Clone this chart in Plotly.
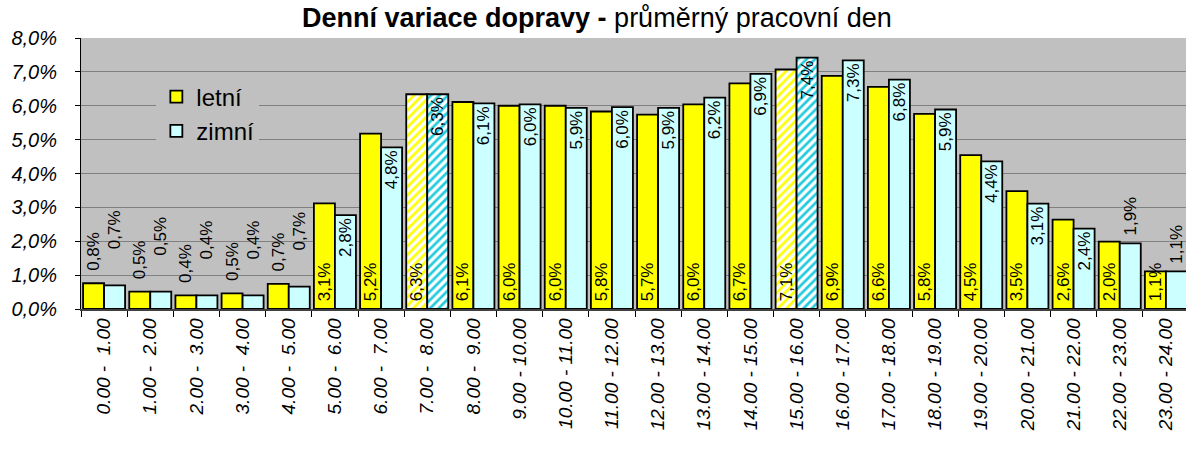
import plotly.graph_objects as go

# ---- data ----
hours_from = list(range(24))
categories = [f"{h}.00 - {'\u00a0' if h + 1 < 10 else ''}{h + 1}.00" for h in hours_from]
letni = [0.76, 0.51, 0.40, 0.46, 0.74, 3.12, 5.18, 6.34, 6.11, 6.00, 6.00, 5.83,
         5.74, 6.04, 6.66, 7.07, 6.88, 6.56, 5.76, 4.54, 3.48, 2.64, 1.99, 1.11]
zimni = [0.70, 0.51, 0.40, 0.40, 0.66, 2.77, 4.77, 6.34, 6.07, 6.04, 5.94, 5.96,
         5.94, 6.24, 6.94, 7.42, 7.34, 6.77, 5.89, 4.36, 3.11, 2.37, 1.94, 1.11]
peak_hours = ["7.00 - \u00a08.00", "15.00 - 16.00"]
series_names = ["letní", "zimní"]
title_bold = "Denní variace dopravy -"
title_rest = "průměrný pracovní den"

FONT = "Liberation Sans, Arial, sans-serif"
YELLOW = "#FFFF00"
CYAN = "#CCFFFF"
CYAN_HATCH = "#22CCDD"
NB = "\u00a0"


def pattern_for(fg):
    shapes = ["/" if c in peak_hours else "" for c in categories]
    fgs = [fg] * len(categories)
    bgs = ["white" if c in peak_hours else fg for c in categories]
    return dict(shape=shapes, fgcolor=fgs, bgcolor=bgs, size=6, solidity=0.45,
                fillmode="replace")


tf = dict(family=FONT, size=17, color="black")
common = dict(textangle=-90, constraintext="none", textfont=tf,
              insidetextfont=tf, outsidetextfont=tf, cliponaxis=False)

fig = go.Figure()
fig.add_bar(
    x=categories, y=letni, name=series_names[0],
    marker=dict(color=YELLOW, line=dict(color="black", width=1.8),
                pattern=pattern_for(YELLOW)),
    textposition=["outside" if v < 1 else "inside" for v in letni],
    texttemplate=[(NB * 2 if v < 1 else NB) + "%{y:.1f}%" for v in letni],
    insidetextanchor="start", **common,
)
fig.add_bar(
    x=categories, y=zimni, name=series_names[1],
    marker=dict(color=CYAN, line=dict(color="black", width=1.8),
                pattern=dict(pattern_for(CYAN), fgcolor=[CYAN_HATCH] * len(categories))),
    textposition=["outside" if v < 2 else "inside" for v in zimni],
    texttemplate=[(NB * 7 if v < 1 else NB if v < 2 else "") + "%{y:.1f}%" for v in zimni],
    insidetextanchor="end", **common,
)

fig.update_layout(
    width=1189, height=459, autosize=False,
    margin=dict(l=81, r=0, t=38, b=150, pad=0),
    paper_bgcolor="white", plot_bgcolor="#C0C0C0",
    separators=", ",
    barmode="group", bargap=0.09, bargroupgap=0,
    font=dict(family=FONT, color="black"),
    title=dict(text=f"<b>{title_bold}</b> {title_rest}", x=0.502, xref="container",
               xanchor="center", y=0.962, yref="container", yanchor="middle",
               font=dict(family=FONT, size=27, color="black")),
    legend=dict(x=0.068, y=0.865, xanchor="left", yanchor="top", bgcolor="#C0C0C0",
                font=dict(family=FONT, size=24, color="black"),
                tracegroupgap=0, itemwidth=30),
    showlegend=True,
)
fig.update_xaxes(
    tickangle=-90, tickfont=dict(family=FONT, size=19, style="italic", color="black"),
    ticks="outside", tickson="boundaries", ticklen=6, tickcolor="black",
    showline=True, linecolor="#404040", linewidth=1.5, showgrid=False,
    automargin=False,
)
fig.update_yaxes(
    range=[0, 8], dtick=1, tickformat=".1f", ticksuffix="%",
    tickfont=dict(family=FONT, size=20, style="italic", color="black"),
    ticks="outside", ticklen=5, tickcolor="black", ticklabelstandoff=14,
    showline=True, linecolor="black", linewidth=1,
    gridcolor="#808080", gridwidth=1, zeroline=False, automargin=False,
)

fig.write_html(
    "out.html",
    config={"displayModeBar": False},
    post_script="document.body.style.margin='0px';document.body.style.overflow='hidden';",
)
